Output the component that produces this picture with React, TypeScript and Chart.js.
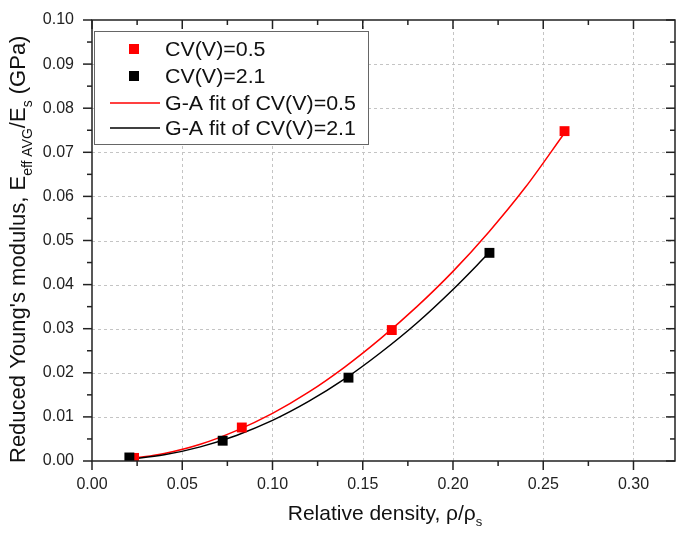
import React, { useEffect, useRef } from "react";
import { Chart, registerables } from "chart.js";

Chart.register(...registerables);

// ---- data ----
const redX = [0.0233, 0.083, 0.1661, 0.2618];
const redY = [0.0007, 0.0076, 0.0297, 0.0748];
const blackX = [0.0207, 0.0724, 0.1421, 0.2202];
const blackY = [0.0008, 0.0046, 0.0189, 0.0472];

const redFitX = [0.023, 0.04, 0.06, 0.08, 0.1, 0.12, 0.14, 0.16, 0.18, 0.2, 0.22, 0.24, 0.262];
const redFitY = [0.0006, 0.0017, 0.0038, 0.0069, 0.0108, 0.0156, 0.0213, 0.0278, 0.035, 0.043, 0.052, 0.062, 0.0745];
const blackFitX = [0.02, 0.04, 0.06, 0.08, 0.1, 0.12, 0.14, 0.16, 0.18, 0.2, 0.22];
const blackFitY = [0.0004, 0.0014, 0.0032, 0.0058, 0.0092, 0.0135, 0.0186, 0.0246, 0.0313, 0.0389, 0.0472];

const xTicks = [0, 0.05, 0.1, 0.15, 0.2, 0.25, 0.3];
const yTicks = [0, 0.01, 0.02, 0.03, 0.04, 0.05, 0.06, 0.07, 0.08, 0.09, 0.1];
const xMin = 0;
const xMax = 0.323;
const yMin = 0;
const yMax = 0.1;

const legendLabels = ["CV(V)=0.5", "CV(V)=2.1", "G-A fit of CV(V)=0.5", "G-A fit of CV(V)=2.1"];
const xTitleMain = "Relative density, \u03c1/\u03c1";
const xTitleSub = "s";
const yTitleParts: [string, boolean][] = [
  ["Reduced Young's modulus, E", false],
  ["eff AVG", true],
  ["/E", false],
  ["s", true],
  [" (GPa)", false],
];

const RED = "#ff0000";
const BLACK = "#000000";
const FONT = '"Liberation Sans", Arial, sans-serif';

function pts(xs: number[], ys: number[]) {
  return xs.map((x, i) => ({ x, y: ys[i] }));
}

export default function App() {
  const ref = useRef<HTMLCanvasElement>(null);

  useEffect(() => {
    document.body.style.margin = "0";
    const canvas = ref.current;
    if (!canvas) return;

    const minors = (arr: number[], lo: number, hi: number) => {
      const step = arr[1] - arr[0];
      const out: number[] = [];
      for (let i = 0; i < arr.length; i++) {
        const m = arr[i] + step / 2;
        if (m > lo && m < hi) out.push(m);
      }
      return out;
    };

    const framePlugin = {
      id: "frame",
      beforeDatasetsDraw(chart: any) {
        const { ctx, chartArea: a, scales } = chart;
        ctx.save();
        ctx.strokeStyle = "#c4c4c4";
        ctx.lineWidth = 1;
        ctx.setLineDash([3, 3]);
        xTicks.forEach((v) => {
          const px = Math.round(scales.x.getPixelForValue(v)) + 0.5;
          if (px <= a.left + 1 || px >= a.right - 1) return;
          ctx.beginPath();
          ctx.moveTo(px, a.top);
          ctx.lineTo(px, a.bottom);
          ctx.stroke();
        });
        yTicks.forEach((v) => {
          const py = Math.round(scales.y.getPixelForValue(v)) + 0.5;
          if (py <= a.top + 1 || py >= a.bottom - 1) return;
          ctx.beginPath();
          ctx.moveTo(a.left, py);
          ctx.lineTo(a.right, py);
          ctx.stroke();
        });
        ctx.restore();
      },
      afterDraw(chart: any) {
        const { ctx, chartArea: a, scales } = chart;
        const sx = scales.x;
        const sy = scales.y;
        ctx.save();
        ctx.setLineDash([]);
        ctx.strokeStyle = "#222";
        ctx.lineWidth = 1.5;
        ctx.beginPath();
        ctx.rect(a.left, a.top, a.right - a.left, a.bottom - a.top);
        ctx.stroke();

        const MAJ = 9;
        const MIN = 5;
        const tick = (x1: number, y1: number, x2: number, y2: number) => {
          ctx.beginPath();
          ctx.moveTo(x1, y1);
          ctx.lineTo(x2, y2);
          ctx.stroke();
        };
        xTicks.forEach((v) => {
          const px = sx.getPixelForValue(v);
          tick(px, a.bottom, px, a.bottom + MAJ);
          tick(px, a.top, px, a.top + MAJ);
        });
        minors(xTicks, xMin, xMax).forEach((v) => {
          const px = sx.getPixelForValue(v);
          tick(px, a.bottom, px, a.bottom + MIN);
          tick(px, a.top, px, a.top + MIN);
        });
        yTicks.forEach((v) => {
          const py = sy.getPixelForValue(v);
          tick(a.left, py, a.left - MAJ, py);
          tick(a.right, py, a.right - MAJ, py);
        });
        minors(yTicks, yMin, yMax).forEach((v) => {
          const py = sy.getPixelForValue(v);
          tick(a.left, py, a.left - MIN, py);
          tick(a.right, py, a.right - MIN, py);
        });

        // legend
        const lx = 94, ly = 31, lw = 274, lh = 113;
        ctx.fillStyle = "#ffffff";
        ctx.fillRect(lx, ly, lw, lh);
        ctx.strokeStyle = "#666";
        ctx.lineWidth = 1;
        ctx.strokeRect(lx + 0.5, ly + 0.5, lw, lh);
        const rowsY = [49, 76, 103, 128];
        const colors = [RED, BLACK, RED, BLACK];
        rowsY.forEach((ry, i) => {
          if (i < 2) {
            ctx.fillStyle = colors[i];
            ctx.fillRect(129, ry - 5, 10, 10);
          } else {
            ctx.strokeStyle = colors[i];
            ctx.lineWidth = 1.5;
            ctx.beginPath();
            ctx.moveTo(110, ry);
            ctx.lineTo(160, ry);
            ctx.stroke();
          }
          ctx.save();
          ctx.translate(165, ry);
          ctx.scale(1.07, 1);
          ctx.fillStyle = "#111";
          ctx.font = `20px ${FONT}`;
          ctx.textBaseline = "middle";
          ctx.textAlign = "left";
          ctx.fillText(legendLabels[i], 0, 1);
          ctx.restore();
        });

        // x title
        ctx.fillStyle = "#111";
        ctx.textBaseline = "alphabetic";
        ctx.textAlign = "left";
        ctx.font = `21px ${FONT}`;
        const wMain = ctx.measureText(xTitleMain).width;
        ctx.font = `13px ${FONT}`;
        const wSub = ctx.measureText(xTitleSub).width;
        const xStart = 385 - (wMain + wSub) / 2;
        ctx.font = `21px ${FONT}`;
        ctx.fillText(xTitleMain, xStart, 520);
        ctx.font = `13px ${FONT}`;
        ctx.fillText(xTitleSub, xStart + wMain, 526);

        // y title (rotated), starting near the bottom
        ctx.save();
        ctx.translate(25, 463);
        ctx.rotate(-Math.PI / 2);
        let cx = 0;
        yTitleParts.forEach(([t, sub]) => {
          ctx.font = sub ? `14px ${FONT}` : `22px ${FONT}`;
          ctx.fillText(t, cx, sub ? 7 : 0);
          cx += ctx.measureText(t).width;
        });
        ctx.restore();
        ctx.restore();
      },
    };

    const chart = new Chart(canvas, {
      type: "scatter",
      data: {
        datasets: [
          {
            label: legendLabels[1],
            data: pts(blackX, blackY),
            backgroundColor: BLACK,
            borderColor: BLACK,
            pointStyle: "rect",
            pointRadius: 7,
            borderWidth: 0,
            showLine: false,
            order: 0,
          },
          {
            label: legendLabels[0],
            data: pts(redX, redY),
            backgroundColor: RED,
            borderColor: RED,
            pointStyle: "rect",
            pointRadius: 7,
            borderWidth: 0,
            showLine: false,
            order: 1,
          },
          {
            label: legendLabels[3],
            data: pts(blackFitX, blackFitY),
            borderColor: BLACK,
            backgroundColor: BLACK,
            borderWidth: 1.5,
            pointRadius: 0,
            showLine: true,
            cubicInterpolationMode: "monotone",
            order: 2,
          },
          {
            label: legendLabels[2],
            data: pts(redFitX, redFitY),
            borderColor: RED,
            backgroundColor: RED,
            borderWidth: 1.5,
            pointRadius: 0,
            showLine: true,
            cubicInterpolationMode: "monotone",
            order: 3,
          },
        ],
      },
      options: {
        responsive: false,
        animation: false,
        devicePixelRatio: 1,
        layout: { autoPadding: false, padding: { left: 0, top: 20, right: 1, bottom: 0 } },
        plugins: {
          legend: { display: false },
          tooltip: { enabled: false },
          title: { display: false },
        },
        scales: {
          x: {
            type: "linear",
            min: xMin,
            max: xMax,
            grid: { display: false },
            border: { display: false },
            afterBuildTicks: (s: any) => {
              s.ticks = xTicks.map((v) => ({ value: v }));
            },
            afterFit: (s: any) => {
              s.height = 73;
              s.paddingLeft = 0;
              s.paddingRight = 0;
            },
            ticks: {
              padding: 6,
              color: "#222",
              font: { family: FONT, size: 16 },
              callback: (v: any) => Number(v).toFixed(2),
              maxRotation: 0,
            },
          },
          y: {
            type: "linear",
            min: yMin,
            max: yMax,
            grid: { display: false },
            border: { display: false },
            afterBuildTicks: (s: any) => {
              s.ticks = yTicks.map((v) => ({ value: v }));
            },
            afterFit: (s: any) => {
              s.width = 92;
              s.paddingTop = 0;
              s.paddingBottom = 0;
            },
            ticks: {
              padding: 10,
              color: "#222",
              font: { family: FONT, size: 16 },
              callback: (v: any) => Number(v).toFixed(2),
            },
          },
        },
      },
      plugins: [framePlugin],
    } as any);

    return () => chart.destroy();
  }, []);

  return <canvas ref={ref} width={676} height={534} style={{ display: "block" }} />;
}
